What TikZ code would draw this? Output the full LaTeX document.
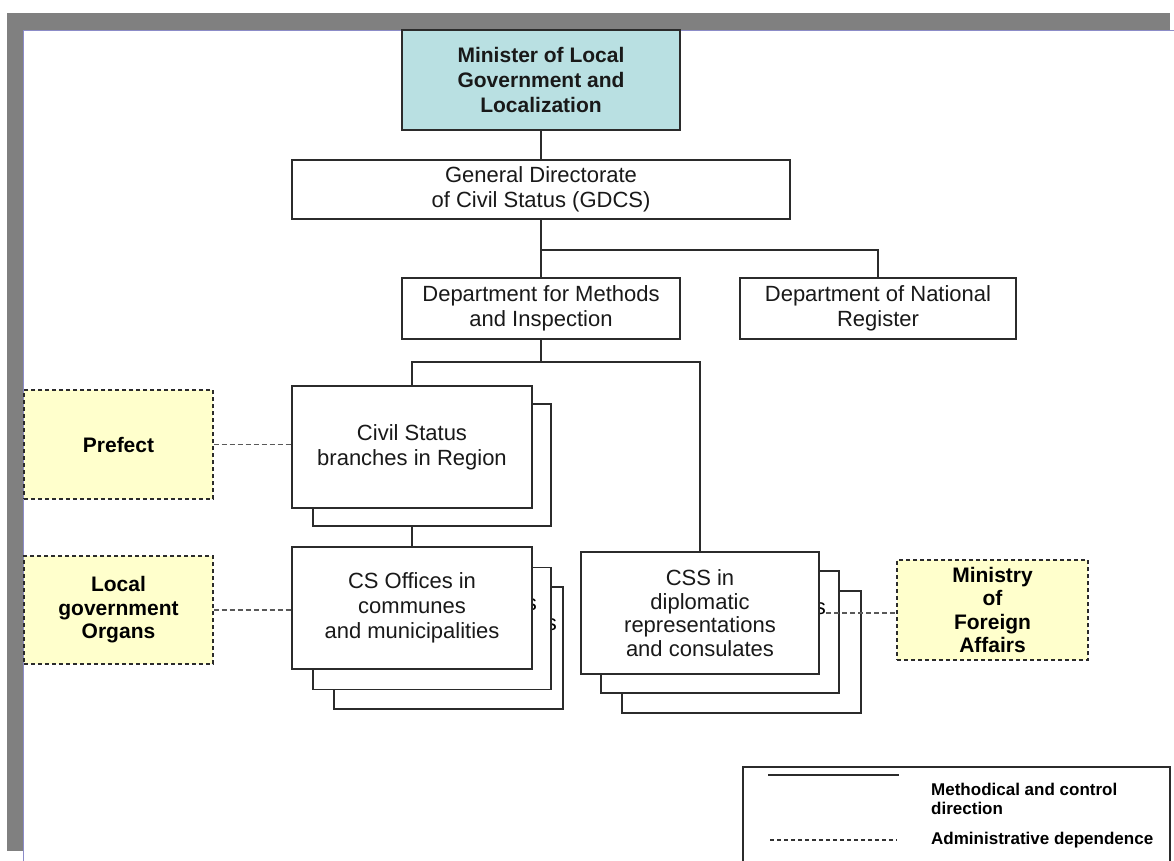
\documentclass[tikz,border=0pt]{standalone}
\usepackage{fontspec}
\setmainfont{Liberation Sans}
\usetikzlibrary{backgrounds}
\definecolor{framegray}{HTML}{808080}
\definecolor{frameline}{HTML}{8C8CC8}
\definecolor{headfill}{HTML}{B9E0E2}
\definecolor{extfill}{HTML}{FFFFCC}
\definecolor{boxline}{HTML}{2B2B2B}
\tikzset{
  unitbox/.style={draw=boxline, line width=1.5pt, fill=white, inner sep=0pt,
    align=center, text=black!90, font=\fontsize{22}{25}\selectfont},
  headbox/.style={unitbox, fill=headfill, font=\bfseries\fontsize{21}{25}\selectfont},
  extbox/.style={draw=boxline, line width=1.1pt, dash pattern=on 4pt off 3pt,
    fill=extfill, inner sep=0pt, align=center, font=\bfseries\fontsize{21}{23.5}\selectfont},
  rest/.style={anchor=east, inner sep=0pt, font=\fontsize{22}{25}\selectfont},
  ctrl/.style={draw=boxline, line width=1.5pt},
  admin/.style={draw=black!65, line width=1.4pt, dash pattern=on 5pt off 3pt},
  keytext/.style={anchor=west, align=left, inner sep=0pt, font=\bfseries\fontsize{17}{19}\selectfont}
}
\begin{document}
\begin{tikzpicture}[x=1pt,y=-1pt]
  \useasboundingbox (0,0) rectangle (1174,861);
  % frame
  \fill[framegray] (7,13) rectangle (1170,30);
  \fill[framegray] (7,13) rectangle (23,851);
  \draw[frameline, line width=1.5pt] (23.5,861) -- (23.5,30.5) -- (1174,30.5);

  \node[headbox, minimum width=278pt, minimum height=100pt] (minister) at (541,80)
    {Minister of Local\\Government and\\Localization};
  \node[unitbox, minimum width=498pt, minimum height=59pt] (gdcs) at (541,189.5)
    {General Directorate\\of Civil Status (GDCS)};
  \node[unitbox, minimum width=278pt, minimum height=61pt] (methods) at (541,308.5)
    {Department for Methods\\and Inspection};
  \node[unitbox, minimum width=276pt, minimum height=61pt] (register) at (878,308.5)
    {Department of National\\Register};

  % regions
  \node[unitbox, minimum width=238pt, minimum height=122pt] (regionback) at (432,465) {};
  \node[unitbox, minimum width=240pt, minimum height=122pt] (region) at (412,447)
    {Civil Status\\branches in Region};

  % communes
  \node[unitbox, minimum width=229pt, minimum height=122pt] (officesback2) at (448.5,648) {};
  \node[rest] (officesrest2) at (557,625) {s};
  \node[unitbox, minimum width=238pt, minimum height=122pt] (officesback) at (432,628.5) {};
  \node[rest] (officesrest) at (537,605) {s};
  \node[unitbox, minimum width=240pt, minimum height=122pt] (offices) at (412,608)
    {CS Offices in\\communes\\and municipalities};

  % consulates
  \node[unitbox, minimum width=239pt, minimum height=122pt] (cssback2) at (741.5,652) {};
  \node[unitbox, minimum width=238pt, minimum height=122pt] (cssback) at (720,632) {};
  \node[rest] (cssrest) at (826,609) {s};
  \node[unitbox, minimum width=238pt, minimum height=122pt, font=\fontsize{22}{23.5}\selectfont]
    (css) at (700,613) {CSS in\\diplomatic\\representations\\and consulates};

  % outside bodies
  \node[extbox, minimum width=189pt, minimum height=109pt] (prefect) at (118.5,444.5) {Prefect};
  \node[extbox, minimum width=189pt, minimum height=108pt] (localgov) at (118.5,610)
    {Local\\government\\Organs};
  \node[extbox, minimum width=191pt, minimum height=100pt] (foreign) at (992.5,610)
    {Ministry\\of\\Foreign\\Affairs};

  \begin{pgfonlayer}{background}
    \draw[ctrl] (minister) -- (gdcs);
    \draw[ctrl] (gdcs) -- (methods);
    \draw[ctrl] (gdcs.south) -- ++(0,30) -| (register.north);
    \draw[ctrl] (methods.south) -- ++(0,22) -| (region.north);
    \draw[ctrl] (methods.south) -- ++(0,22) -| (css.north);
    \draw[ctrl] (region) -- (offices);
  \end{pgfonlayer}

  \draw[admin] (prefect.east) -- (prefect.east -| region.west);
  \draw[admin] (localgov.east) -- (localgov.east -| offices.west);
  \coordinate (cssend) at (826,613);
  \draw[admin] (cssend) -- (cssend -| foreign.west);

  % legend
  \draw[boxline, line width=1.2pt] (743,862) -- (743,767) -- (1170,767) -- (1170,862);
  \draw[ctrl] (768,775) -- (899,775);
  \draw[admin, draw=black!80, dash pattern=on 4pt off 3pt] (770,840) -- (897,840);
  \node[keytext] (ctrlkey) at (931,799) {Methodical and control\\direction};
  \node[keytext] (adminkey) at (931,840) {Administrative dependence};
\end{tikzpicture}
\end{document}
